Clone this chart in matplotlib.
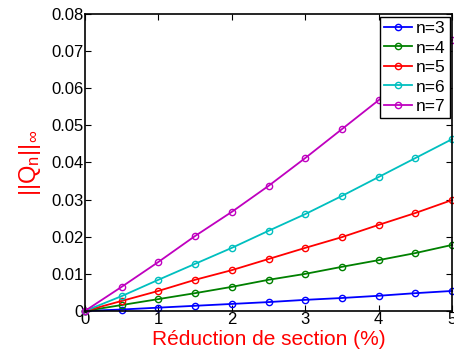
import numpy as np
import matplotlib.pyplot as plt

plt.rcParams['font.family'] = ['Liberation Sans', 'DejaVu Sans']

reduction = [0, 0.5, 1, 1.5, 2, 2.5, 3, 3.5, 4, 4.5, 5]
q3 = [0, 0.0004, 0.0009, 0.0014, 0.0019, 0.0024, 0.0030, 0.0035, 0.0041, 0.0048, 0.0054]
q4 = [0, 0.0016, 0.0032, 0.0048, 0.0065, 0.0084, 0.0100, 0.0119, 0.0137, 0.0156, 0.0178]
q5 = [0, 0.0027, 0.0054, 0.0084, 0.0110, 0.0140, 0.0170, 0.0199, 0.0232, 0.0264, 0.0299]
q6 = [0, 0.0040, 0.0084, 0.0127, 0.0170, 0.0216, 0.0261, 0.0310, 0.0361, 0.0412, 0.0463]
q7 = [0, 0.0065, 0.0132, 0.0202, 0.0267, 0.0337, 0.0412, 0.0490, 0.0568, 0.0650, 0.0730]

series = [q3, q4, q5, q6, q7]
labels = ['n=3', 'n=4', 'n=5', 'n=6', 'n=7']
colors = ['#0000ff', '#008000', '#ff0000', '#00bfbf', '#bf00bf']

fig = plt.figure(figsize=(4.54, 3.54), dpi=100)
ax = fig.add_axes([0.187, 0.1215, 0.809, 0.839])

for vals, lab, col in zip(series, labels, colors):
    ax.plot(reduction, vals, '-o', color=col, label=lab, linewidth=1.3,
            markersize=4.5, markerfacecolor='none', markeredgewidth=1.0,
            clip_on=False)

ax.set_xlim(0, 5)
ax.set_ylim(0, 0.08)
ax.set_xticks([0, 1, 2, 3, 4, 5])
ax.set_yticks(np.arange(0, 0.081, 0.01))
ax.set_yticklabels(['0', '0.01', '0.02', '0.03', '0.04', '0.05', '0.06', '0.07', '0.08'])
ax.tick_params(direction='in', length=4, labelsize=12, top=True, right=True, pad=1)
for s in ax.spines.values():
    s.set_linewidth(1.2)

ax.set_xlabel('Réduction de section (%)', color='red', fontsize=15, labelpad=2)
ax.set_ylabel(r'$\mathregular{||Q_n||_\infty}$', color='red', fontsize=17, labelpad=6)

leg = ax.legend(loc='upper right', fontsize=12.5, frameon=True, fancybox=False,
                edgecolor='black', framealpha=1, borderpad=0.25, labelspacing=0.25,
                handlelength=1.6, handletextpad=0.2, borderaxespad=0.15)
leg.get_frame().set_linewidth(1.0)
leg.set_zorder(5)

fig.savefig('out.png', dpi=100)
